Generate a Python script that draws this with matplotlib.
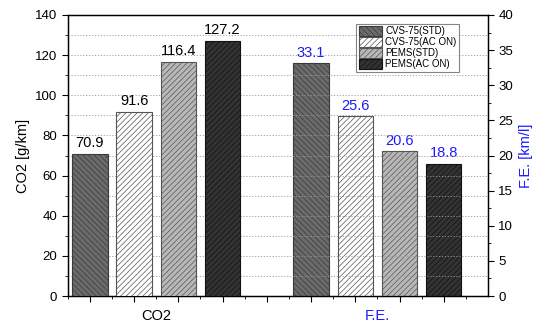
import matplotlib
matplotlib.use("Agg")
import matplotlib.pyplot as plt
import numpy as np
from matplotlib.ticker import MultipleLocator
import matplotlib.transforms as mtransforms

series = ["CVS-75(STD)", "CVS-75(AC ON)", "PEMS(STD)", "PEMS(AC ON)"]
co2 = [70.9, 91.6, 116.4, 127.2]
fe = [33.1, 25.6, 20.6, 18.8]
groups = ["CO2", "F.E."]

colors = ["#6b6b6b", "#ffffff", "#b8b8b8", "#333333"]
hatches = ["\\\\\\\\\\\\", "//////", "//////", "//////"]
edges = ["#3a3a3a", "#555555", "#555555", "#111111"]
blue = "#1a1aff"

plt.rcParams["font.family"] = ["Liberation Sans", "DejaVu Sans"]
plt.rcParams["hatch.linewidth"] = 0.5

fig = plt.figure(figsize=(5.38, 3.26), dpi=100)
ax = fig.add_axes([0.126, 0.092, 0.781, 0.862])
ax2 = ax.twinx()

x_co2 = np.arange(4)
x_fe = np.arange(4) + 5
w = 0.8

handles = []
for i in range(4):
    b = ax.bar(x_co2[i], co2[i], w, color=colors[i], hatch=hatches[i],
               edgecolor=edges[i], linewidth=0.8, zorder=3, label=series[i])
    handles.append(b)
    ax.text(x_co2[i], co2[i] + 2, "{:.1f}".format(co2[i]), ha="center",
            va="bottom", fontsize=10.5, color="black")
    ax2.bar(x_fe[i], fe[i], w, color=colors[i], hatch=hatches[i],
            edgecolor=edges[i], linewidth=0.8, zorder=3)
    ax2.text(x_fe[i], fe[i] + 0.5, "{:.1f}".format(fe[i]), ha="center",
             va="bottom", fontsize=10.5, color=blue)

ax.set_xlim(-0.5, 9.0)
ax.set_ylim(0, 140)
ax2.set_ylim(0, 40)
ax.yaxis.set_major_locator(MultipleLocator(20))
ax.yaxis.set_minor_locator(MultipleLocator(10))
ax2.yaxis.set_major_locator(MultipleLocator(5))
ax2.yaxis.set_minor_locator(MultipleLocator(2.5))
ax.set_xticks(np.arange(0, 9))
ax.set_xticks(np.arange(-0.5, 9, 1.0), minor=True)
ax.set_xticklabels([])

trans = mtransforms.blended_transform_factory(ax.transData, ax.transAxes)
ax.text(1.5, -0.072, groups[0], ha="center", va="center", fontsize=10.5,
        transform=trans)
ax.text(6.5, -0.072, groups[1], ha="center", va="center", fontsize=10.5,
        color=blue, transform=trans)

ax.grid(axis="y", which="both", linestyle=(0, (1.5, 2)), color="#999999",
        linewidth=0.6, zorder=0)
ax.set_axisbelow(True)

ax.set_ylabel("CO2 [g/km]", fontsize=10.5)
ax2.set_ylabel("F.E. [km/l]", fontsize=10.5, color=blue)

for a in (ax, ax2):
    a.tick_params(labelsize=9.5, width=0.8, length=4)
    a.tick_params(which="minor", length=2.5, width=0.6)
    for s in a.spines.values():
        s.set_linewidth(0.9)

leg = ax.legend(handles=handles, loc="upper right", bbox_to_anchor=(0.935, 0.975),
                fontsize=7, frameon=True, fancybox=False, edgecolor="#666666",
                handlelength=2.4, handleheight=1.1, labelspacing=0.1,
                borderpad=0.25, handletextpad=0.3, borderaxespad=0.2)
leg.get_frame().set_linewidth(0.8)
ax.set_zorder(ax2.get_zorder() + 1)
ax.patch.set_visible(False)

fig.savefig("out.png", dpi=100)
